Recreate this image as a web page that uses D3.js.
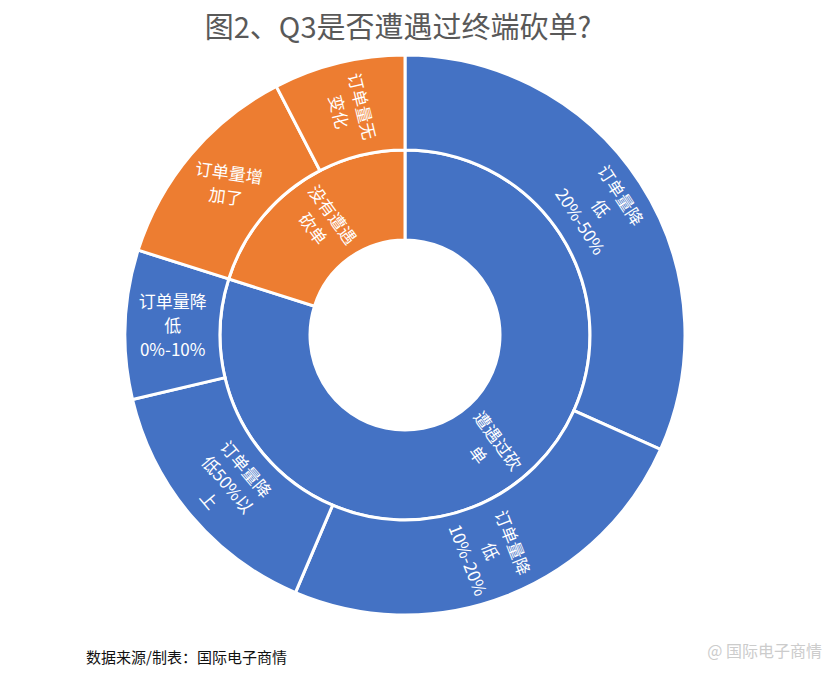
<!DOCTYPE html>
<html><head><meta charset="utf-8">
<script src="https://cdn.jsdelivr.net/npm/d3@7"></script>
<style>body{margin:0;background:#fff;font-family:"Noto Sans CJK SC",sans-serif}</style>
</head><body><div id="chart"></div>
<script>
// inner ring
var innerNames = ["遭遇过砍单", "没有遭遇砍单"];
var innerColors = ["#4472C4", "#ED7D31"];
// outer ring (parent index into innerNames)
var outerNames = ["订单量降低20%-50%", "订单量降低10%-20%", "订单量降低50%以上", "订单量降低0%-10%", "订单量增加了", "订单量无变化"];
var outerParent = [0, 0, 0, 0, 1, 1];
var outerValues = [31.7, 24.7, 14.9, 8.6, 12.5, 7.6];
// how each label is wrapped, one entry per line
var outerLines = [["订单量降", "低", "20%-50%"], ["订单量降", "低", "10%-20%"], ["订单量降", "低50%以", "上"], ["订单量降", "低", "0%-10%"], ["订单量增", "加了"], ["订单量无", "变化"]];
var innerLines = [["遭遇过砍", "单"], ["没有遭遇", "砍单"]];

var W = 831, H = 677, cx = 405, cy = 335;
var svg = d3.select("#chart").append("svg").attr("width", W).attr("height", H);

svg.append("text").attr("x", 398).attr("y", 38).attr("text-anchor", "middle")
  .attr("font-size", 29).attr("fill", "#595959").text("图2、Q3是否遭遇过终端砍单?");

var g = svg.append("g").attr("transform", "translate(" + cx + "," + cy + ")");

var innerValues = innerNames.map(function(n, i) {
  return d3.sum(outerValues.filter(function(v, j) { return outerParent[j] == i; }));
});

var pie = d3.pie().sort(null).value(function(d) { return d; });
var innerArcs = pie(innerValues);
var outerArcs = pie(outerValues);

var arcIn = d3.arc().innerRadius(95).outerRadius(185);
var arcOut = d3.arc().innerRadius(185).outerRadius(280);

g.selectAll(".in").data(innerArcs).enter().append("path")
  .attr("d", arcIn).attr("fill", function(d, i) { return innerColors[i]; })
  .attr("stroke", "#fff").attr("stroke-width", 3);
g.selectAll(".out").data(outerArcs).enter().append("path")
  .attr("d", arcOut).attr("fill", function(d, i) { return innerColors[outerParent[i]]; })
  .attr("stroke", "#fff").attr("stroke-width", 3);

// label orientation: "r" radial, "t" tangent, number = fixed degrees
var outerMode = ["t", "r", "t", 0, 8, "r"];
var innerMode = ["r", "r"];

function rot(d, mode) {
  if (typeof mode == "number") return mode;
  var a = (d.startAngle + d.endAngle) / 2 * 180 / Math.PI;
  var r = mode == "r" ? a - 90 : a;
  while (r > 90) r -= 180;
  while (r < -90) r += 180;
  return r;
}

function labels(arcs, arcGen, lines, modes) {
  arcs.forEach(function(d, i) {
    var c = arcGen.centroid(d);
    var t = g.append("text").attr("fill", "#fff").attr("font-size", 17).attr("text-anchor", "middle")
      .attr("transform", "translate(" + c[0] + "," + c[1] + ") rotate(" + rot(d, modes[i]) + ")");
    var n = lines[i].length;
    lines[i].forEach(function(s, k) {
      t.append("tspan").attr("x", 0).attr("y", (k - (n - 1) / 2) * 24 + 6).text(s);
    });
  });
}
labels(outerArcs, arcOut, outerLines, outerMode);
labels(innerArcs, arcIn, innerLines, innerMode);

svg.append("text").attr("x", 86).attr("y", 663).attr("font-size", 15).attr("fill", "#111")
  .text("数据来源/制表：国际电子商情");
svg.append("text").attr("x", 822).attr("y", 657).attr("text-anchor", "end").attr("font-size", 16).attr("fill", "#ccc")
  .text("@ 国际电子商情");
</script></body></html>
